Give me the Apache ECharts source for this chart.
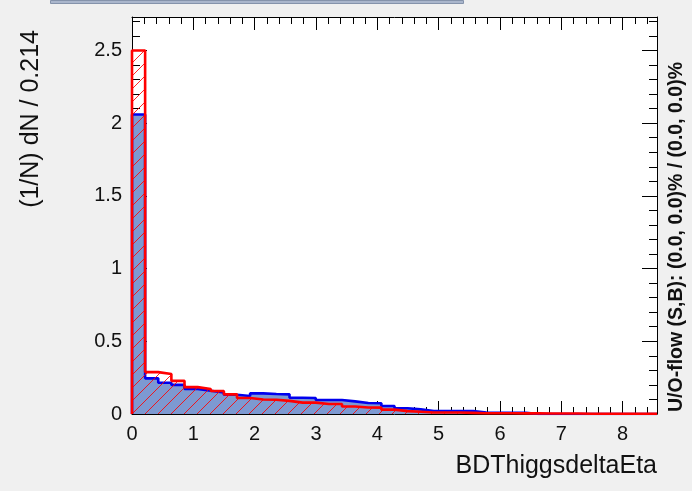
<!DOCTYPE html>
<html>
<head>
<meta charset="utf-8">
<script src="https://cdn.jsdelivr.net/npm/echarts@6/dist/echarts.min.js"></script>
<style>
html,body{margin:0;padding:0;background:#f0f0f0;}
#c{width:692px;height:491px;}
</style>
</head>
<body>
<div id="c"></div>
<script>
// ---- data ----
var binWidth = 0.214;
var nBins = 40;
var xTicks = [0,1,2,3,4,5,6,7,8];
var yTicks = [0,0.5,1,1.5,2,2.5];
var signal = [2.06,0.245,0.215,0.200,0.172,0.160,0.148,0.132,0.124,0.142,
              0.138,0.135,0.112,0.110,0.096,0.096,0.087,0.076,0.074,0.055,
              0.040,0.032,0.021,0.021,0.021,0.020,0.010,0.009,0.009,0.009,
              0,0,0,0,0,0,0,0,0,0];
var background = [2.50,0.288,0.275,0.228,0.185,0.172,0.158,0.135,0.110,0.100,
                  0.098,0.090,0.078,0.078,0.069,0.069,0.052,0.045,0.044,0.030,
                  0.020,0.015,0.010,0.010,0.010,0.008,0.005,0.005,0.005,0.004,
                  0.004,0.003,0.003,0.003,0.002,0.002,0.002,0.002,0.002,0.002];
var xTitle = 'BDThiggsdeltaEta';
var yTitle = '(1/N) dN / 0.214';
var sideText = 'U/O-flow (S,B): (0.0, 0.0)% / (0.0, 0.0)%';

function stepPoints(vals){
  var pts = [[0,0]];
  for (var i=0;i<vals.length;i++) pts.push([+(i*binWidth).toFixed(4), vals[i]]);
  var xe = +(vals.length*binWidth).toFixed(4);
  pts.push([xe, vals[vals.length-1]]);
  pts.push([xe, 0]);
  return pts;
}

// hatch pattern
var hc = document.createElement('canvas');
hc.width = 13; hc.height = 13;
var g = hc.getContext('2d');
g.strokeStyle = 'rgba(255,0,0,0.85)';
g.lineWidth = 1;
g.beginPath();
g.moveTo(-1,14); g.lineTo(14,-1);
g.moveTo(-14,14); g.lineTo(1,-1);
g.moveTo(12,14); g.lineTo(27,-1);
g.stroke();

var xMax = +(nBins*binWidth).toFixed(4);
var yMax = 2.73;
var FONT = 'Liberation Sans';

function xAx(pos, interval, len, labels, line){
  return {type:'value', position:pos, min:0, max:xMax, interval:interval,
    axisLine:{show:line, onZero:false, lineStyle:{color:'#000', width:1}},
    axisTick:{show:true, inside:true, length:len, lineStyle:{color:'#000', width:1}},
    axisLabel:{show:labels, fontFamily:FONT, fontSize:20, color:'#111', margin:10,
      formatter:function(v){ return xTicks.indexOf(v)>=0 ? String(v) : ''; }},
    splitLine:{show:false}};
}
function yAx(pos, interval, len, labels, line){
  return {type:'value', position:pos, min:0, max:yMax, interval:interval,
    axisLine:{show:line, onZero:false, lineStyle:{color:'#000', width:1}},
    axisTick:{show:true, inside:true, length:len, lineStyle:{color:'#000', width:1}},
    axisLabel:{show:labels, fontFamily:FONT, fontSize:20, color:'#111', margin:10,
      formatter:function(v){ return yTicks.indexOf(v)>=0 ? String(v) : ''; }},
    splitLine:{show:false}};
}

var chart = echarts.init(document.getElementById('c'), null, {renderer:'canvas'});
chart.setOption({
  backgroundColor:'#f0f0f0',
  animation:false,
  grid:{left:132, right:35, top:17, bottom:77, show:true, backgroundColor:'#ffffff', borderWidth:0},
  xAxis:[xAx('bottom',1,13,true,true), xAx('bottom',0.2,7,false,false),
         xAx('top',1,13,false,true), xAx('top',0.2,7,false,false)],
  yAxis:[yAx('left',0.5,15,true,true), yAx('left',0.1,8,false,false),
         yAx('right',0.5,15,false,true), yAx('right',0.1,8,false,false)],
  series:[
    {type:'line', name:'Signal', xAxisIndex:0, yAxisIndex:0, step:'end', symbol:'none',
     data:stepPoints(signal), lineStyle:{color:'#0000ee', width:2.6},
     areaStyle:{color:'#7d99d1', opacity:1}, z:2},
    {type:'line', name:'Background', xAxisIndex:0, yAxisIndex:0, step:'end', symbol:'none',
     data:stepPoints(background), lineStyle:{color:'#ff0000', width:2.6},
     areaStyle:{color:{image:hc, repeat:'repeat'}, opacity:1}, z:3}
  ],
  graphic:[
    {type:'rect', left:50, top:0, shape:{width:413, height:3}, style:{fill:'#aab6cc', stroke:'#8593ab', lineWidth:1}, silent:true},
    {type:'text', x:657, y:466, style:{text:xTitle, font:'25px "Liberation Sans"', fill:'#111', align:'right', verticalAlign:'middle'}},
    {type:'text', x:31, y:30, rotation:Math.PI/2, style:{text:yTitle, font:'25px "Liberation Sans"', fill:'#111', align:'right', verticalAlign:'middle'}},
    {type:'text', x:677, y:412, rotation:Math.PI/2, style:{text:sideText, font:'bold 19.5px "Liberation Sans"', fill:'#111', align:'left', verticalAlign:'middle'}}
  ]
});
</script>
</body>
</html>
